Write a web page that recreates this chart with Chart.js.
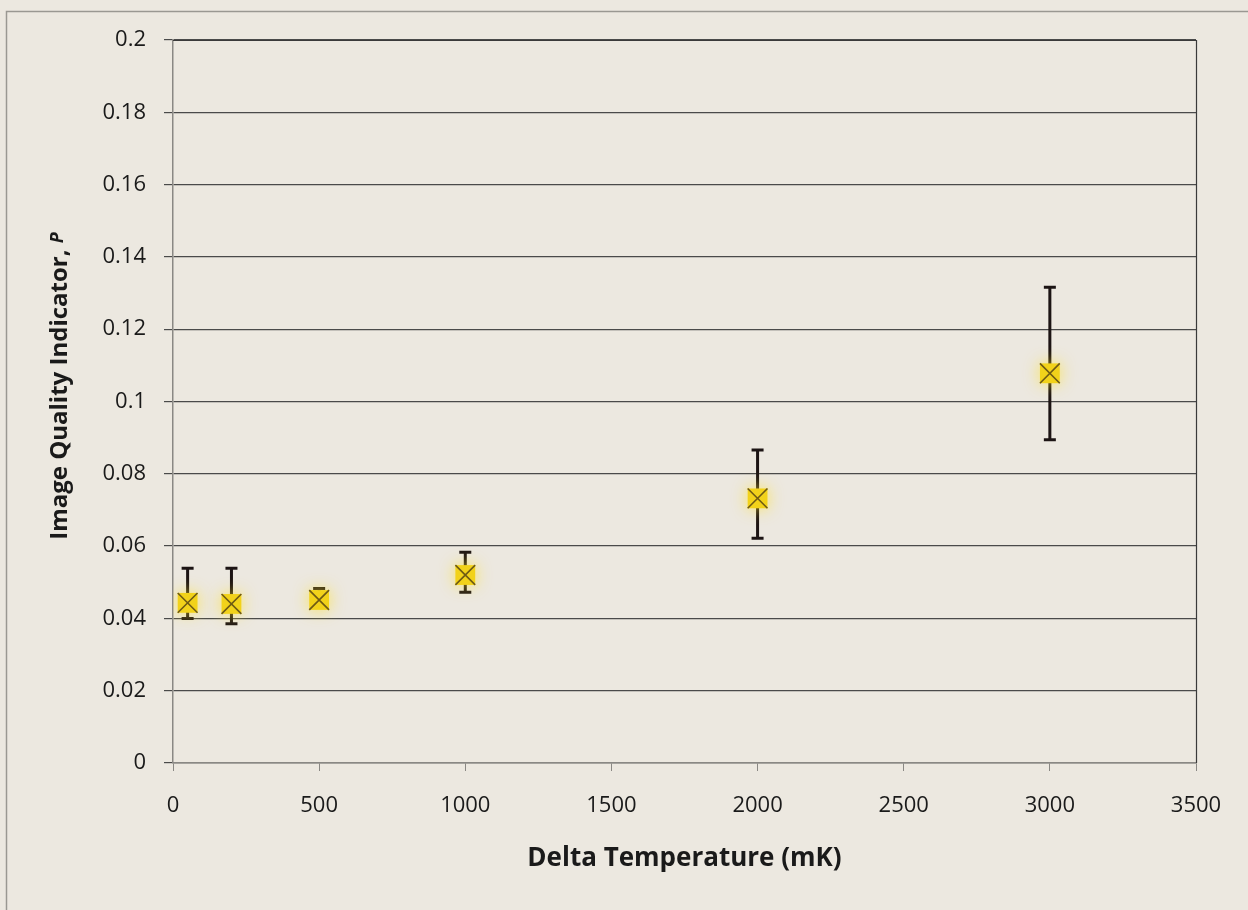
<!DOCTYPE html>
<html>
<head>
<meta charset="utf-8">
<script src="https://cdn.jsdelivr.net/npm/chart.js@4.4.1/dist/chart.umd.min.js"></script>
<style>
  html, body { margin: 0; padding: 0; background: #ece8e0; }
  #wrap { width: 1248px; height: 910px; position: relative; }
</style>
</head>
<body>
<div id="wrap"><canvas id="chart"></canvas></div>
<script>
// ── Data ───────────────────────────────────────────────────────────────
const deltaT   = [50, 200, 500, 1000, 2000, 3000];            // mK
const pValues  = [0.0443, 0.0440, 0.0451, 0.0520, 0.0732, 0.1078];
const errHigh  = [0.0539, 0.0539, 0.0483, 0.0583, 0.0866, 0.1316];
const errLow   = [0.0400, 0.0385, 0.0440, 0.0472, 0.0622, 0.0894];

const xTicks = [0, 500, 1000, 1500, 2000, 2500, 3000, 3500];
const yTicks = [0, 0.02, 0.04, 0.06, 0.08, 0.1, 0.12, 0.14, 0.16, 0.18, 0.2];

const yTitleMain   = 'Image Quality Indicator, ';
const yTitleSymbol = 'P';

const points = deltaT.map((x, i) => ({ x, y: pValues[i] }));

const FONT = "'Open Sans', 'Liberation Sans', sans-serif";

// ── Plugins ────────────────────────────────────────────────────────────
const frame = {
  id: 'frame',
  beforeDraw(chart) {
    const ctx = chart.ctx;
    ctx.save();
    ctx.fillStyle = '#ece8e0';
    ctx.fillRect(0, 0, chart.width, chart.height);
    ctx.strokeStyle = '#9a9892';
    ctx.lineWidth = 1.5;
    ctx.strokeRect(6.5, 11.5, 1400, 1200);
    ctx.restore();
  },
  afterDraw(chart) {
    const { ctx, chartArea: a } = chart;
    ctx.save();
    ctx.strokeStyle = '#3a3a3a';
    ctx.lineWidth = 1.2;
    ctx.beginPath();
    ctx.moveTo(a.left, a.top + 0.5);
    ctx.lineTo(a.right + 0.5, a.top + 0.5);
    ctx.lineTo(a.right + 0.5, a.bottom);
    ctx.stroke();

    // y title: bold, with the symbol P in bold italic
    ctx.translate(60, 386);
    ctx.rotate(-Math.PI / 2);
    ctx.fillStyle = '#1a1a1a';
    ctx.textBaseline = 'middle';
    const fMain = 'bold 24px ' + FONT;
    const fSym  = 'italic bold 18px ' + FONT;
    ctx.font = fMain;
    const w1 = ctx.measureText(yTitleMain).width;
    ctx.font = fSym;
    const w2 = ctx.measureText(yTitleSymbol).width;
    let x0 = -(w1 + w2) / 2;
    ctx.font = fMain;
    ctx.fillText(yTitleMain, x0, 0);
    ctx.font = fSym;
    ctx.fillText(yTitleSymbol, x0 + w1, -2);
    ctx.restore();
  }
};

const errorBars = {
  id: 'errorBars',
  beforeDatasetsDraw(chart) {
    const { ctx, scales: { x, y } } = chart;
    ctx.save();
    ctx.strokeStyle = '#1c1414';
    ctx.lineWidth = 3;
    deltaT.forEach((v, i) => {
      const px = x.getPixelForValue(v);
      const top = y.getPixelForValue(errHigh[i]);
      const bot = y.getPixelForValue(errLow[i]);
      ctx.beginPath();
      ctx.moveTo(px, top);
      ctx.lineTo(px, bot);
      ctx.moveTo(px - 6, top);
      ctx.lineTo(px + 6, top);
      ctx.moveTo(px - 6, bot);
      ctx.lineTo(px + 6, bot);
      ctx.stroke();
    });
    ctx.restore();
  }
};

// soft yellow glow behind the square markers (dataset 1 = squares)
const glow = {
  id: 'glow',
  beforeDatasetDraw(chart, args) {
    if (args.index !== 1) return;
    const ctx = chart.ctx;
    ctx.save();
    ctx.shadowColor = 'rgba(255, 225, 40, 0.75)';
    ctx.shadowBlur = 16;
  },
  afterDatasetDraw(chart, args) {
    if (args.index !== 1) return;
    chart.ctx.restore();
  }
};

// ── Chart ──────────────────────────────────────────────────────────────
const tickFont  = { family: FONT, size: 22 };
const titleFont = { family: FONT, size: 26, weight: 'bold' };

new Chart(document.getElementById('chart'), {
  type: 'scatter',
  data: {
    datasets: [
      {
        label: 'P cross',
        data: points,
        pointStyle: 'crossRot',
        pointRadius: 14,
        pointHoverRadius: 14,
        borderColor: '#6e5a14',
        borderWidth: 1.6,
      },
      {
        label: 'P',
        data: points,
        pointStyle: 'rect',
        pointRadius: 14,
        pointHoverRadius: 14,
        backgroundColor: '#f2d21a',
        borderWidth: 0,
      }
    ]
  },
  options: {
    responsive: true,
    maintainAspectRatio: false,
    animation: false,
    events: [],
    layout: { padding: { left: 0, top: 40, right: 52, bottom: 0 } },
    plugins: {
      legend: { display: false },
      tooltip: { enabled: false }
    },
    scales: {
      x: {
        type: 'linear',
        min: 0,
        max: 3500,
        afterBuildTicks: axis => { axis.ticks = xTicks.map(v => ({ value: v })); },
        afterFit: axis => { axis.height = 147; },
        border: { color: '#8a8884', width: 1.5 },
        grid: { drawOnChartArea: false, drawTicks: true, tickLength: 8, color: '#8a8884' },
        ticks: { color: '#1a1a1a', font: tickFont, padding: 22, maxRotation: 0,
                 callback: v => String(v) },
        title: {
          display: true,
          text: 'Delta Temperature (mK)',
          color: '#1a1a1a',
          font: titleFont,
          padding: { top: 0, bottom: 36 }
        }
      },
      y: {
        type: 'linear',
        min: 0,
        max: 0.2,
        afterBuildTicks: axis => { axis.ticks = yTicks.map(v => ({ value: v })); },
        afterFit: axis => { axis.width = 173; },
        border: { color: '#8a8884', width: 1.5 },
        grid: { color: '#4a4a4a', lineWidth: 1.2, drawTicks: true, tickLength: 9 },
        ticks: { color: '#1a1a1a', font: tickFont, padding: 18,
                 callback: v => String(v) },
        title: { display: false }
      }
    }
  },
  plugins: [frame, errorBars, glow]
});
</script>
</body>
</html>
